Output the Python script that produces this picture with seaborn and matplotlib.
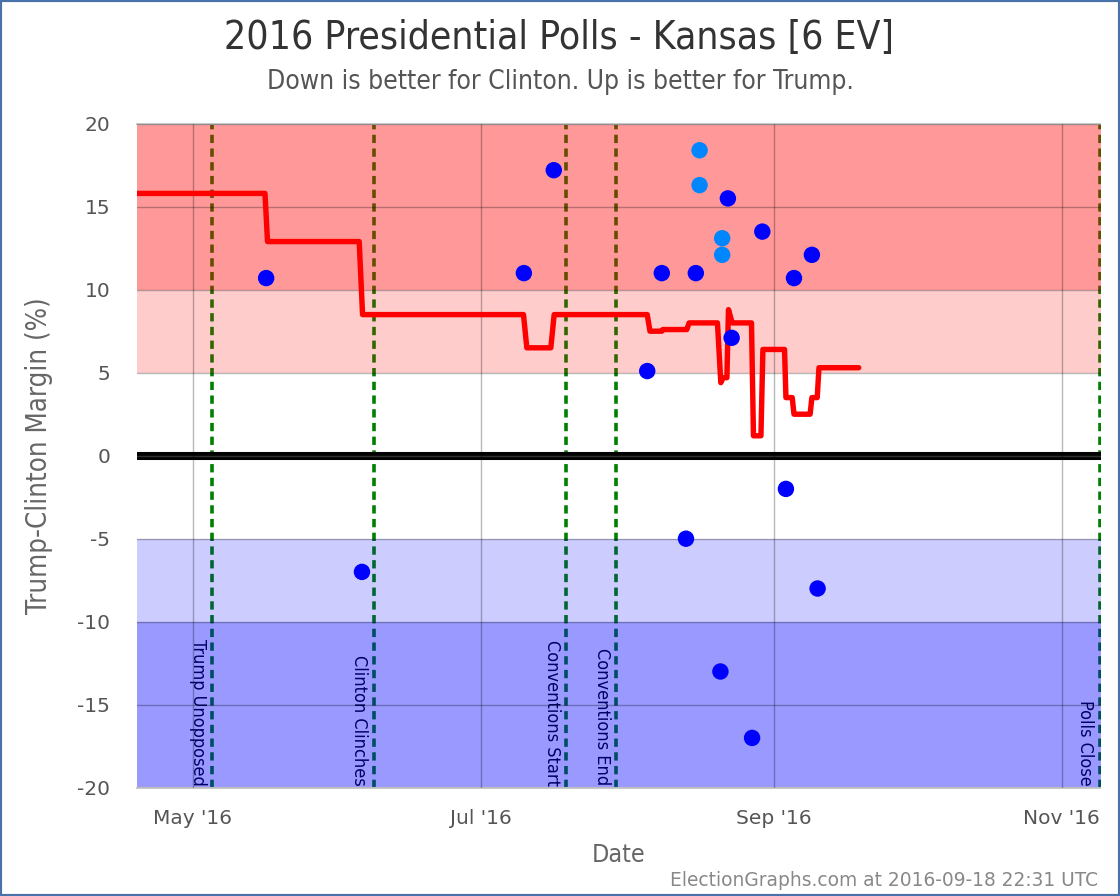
import numpy as np
import pandas as pd
import matplotlib
matplotlib.use("Agg")
import matplotlib.pyplot as plt
from matplotlib import font_manager
from matplotlib.patches import Rectangle
import seaborn as sns

# ---------------- data ----------------
poll_dates = ["2016-05-16 12:00", "2016-06-05 19:00", "2016-07-10 02:00", "2016-07-16 10:00",
              "2016-08-05 05:00", "2016-08-08 07:00", "2016-08-13 10:00", "2016-08-15 12:00",
              "2016-08-16 07:00", "2016-08-16 07:00", "2016-08-22 07:00", "2016-08-21 02:00",
              "2016-08-21 02:00", "2016-08-20 17:00", "2016-08-23 02:00", "2016-08-27 10:00",
              "2016-08-29 14:00", "2016-09-03 14:00", "2016-09-05 07:00", "2016-09-09 02:00",
              "2016-09-10 07:00"]
poll_margins = [10.7, -7, 11, 17.2, 5.1, 11, -5, 11, 18.4, 16.3, 15.5, 13.1, 12.1, -13,
                7.1, -17, 13.5, -2, 10.7, 12.1, -8]
poll_kinds = ["poll", "poll", "poll", "poll", "poll", "poll", "poll", "poll", "alt", "alt",
              "poll", "alt", "alt", "poll", "poll", "poll", "poll", "poll", "poll", "poll", "poll"]

avg_dates = ["2016-04-19 02:00", "2016-05-16 06:00", "2016-05-16 19:00", "2016-06-05 05:00",
             "2016-06-05 22:00", "2016-07-10 00:00", "2016-07-10 17:00", "2016-07-15 19:00",
             "2016-07-16 12:00", "2016-08-05 05:00", "2016-08-05 19:00", "2016-08-08 07:00",
             "2016-08-08 12:00", "2016-08-13 14:00", "2016-08-14 02:00", "2016-08-20 02:00",
             "2016-08-20 19:00", "2016-08-21 07:00", "2016-08-22 02:00", "2016-08-22 10:00",
             "2016-08-23 05:00", "2016-08-27 07:00", "2016-08-27 17:00", "2016-08-29 07:00",
             "2016-08-29 17:00", "2016-09-03 07:00", "2016-09-03 14:00", "2016-09-04 22:00",
             "2016-09-05 07:00", "2016-09-08 17:00", "2016-09-09 02:00", "2016-09-10 05:00",
             "2016-09-10 14:00", "2016-09-19 00:00"]
avg_margins = [15.8, 15.8, 12.9, 12.9, 8.5, 8.5, 6.5, 6.5, 8.5, 8.5, 7.5, 7.5, 7.6, 7.6,
               8.0, 8.0, 4.4, 4.7, 4.7, 8.8, 8.0, 8.0, 1.2, 1.2, 6.4, 6.4, 3.5, 3.5, 2.5,
               2.5, 3.5, 3.5, 5.3, 5.3]

event_dates = ["2016-05-05 00:00", "2016-06-08 07:00", "2016-07-19 00:00",
               "2016-07-29 14:00", "2016-11-09 00:00"]
event_labels = ["Trump Unopposed", "Clinton Clinches", "Conventions Start",
                "Conventions End", "Polls Close"]

band_lows = [10, 5, -10, -20]
band_highs = [20, 10, -5, -10]
band_sides = ["Trump", "Trump", "Clinton", "Clinton"]
band_strength = ["strong", "weak", "weak", "strong"]

tick_dates = ["2016-05-01", "2016-07-01", "2016-09-01", "2016-11-01"]
tick_labels = ["May '16", "Jul '16", "Sep '16", "Nov '16"]
y_ticks = [-20, -15, -10, -5, 0, 5, 10, 15, 20]
x_range = ["2016-04-19 02:00", "2016-11-09 05:00"]

# ---------------- style ----------------
sns.set_theme(style="white")
plt.rcParams["font.family"] = ["DejaVu Sans"]
plt.rcParams["axes.unicode_minus"] = False

try:
    _p = font_manager.findfont(font_manager.FontProperties(family="DejaVu Sans", stretch="condensed"),
                               fallback_to_default=False)
    HAS_COND = "condensed" in _p.lower()
except Exception:
    HAS_COND = False
cond = dict(family="DejaVu Sans", stretch="condensed") if HAS_COND else dict(family="DejaVu Sans")
k = 1.0 if HAS_COND else 0.91

polls = pd.DataFrame({"date": pd.to_datetime(poll_dates), "margin": poll_margins, "kind": poll_kinds})
avg = pd.DataFrame({"date": pd.to_datetime(avg_dates), "margin": avg_margins})

W, H = 1120, 896
fig = plt.figure(figsize=(W / 100, H / 100), dpi=100)
fig.patch.set_facecolor("white")
left, right, top, bottom = 136.7, 1100.5, 123.7, 787.7
ax = fig.add_axes([left / W, 1 - bottom / H, (right - left) / W, (bottom - top) / H])
ax.set_facecolor("white")

side_color = {"Trump": "#ff0000", "Clinton": "#0000ff"}
strength_alpha = {"strong": 0.4, "weak": 0.2}
for lo, hi, sd, st in zip(band_lows, band_highs, band_sides, band_strength):
    ax.axhspan(lo, hi, color=side_color[sd], alpha=strength_alpha[st], lw=0, zorder=1)

for d, lbl in zip(event_dates, event_labels):
    t = pd.Timestamp(d)
    ax.axvline(t, color="#008000", lw=2.6, dashes=(2.3, 1.5), zorder=0.5)
    ax.annotate(lbl, xy=(t, -20), xycoords="data", xytext=(-3.8, 1.5), textcoords="offset points",
                rotation=270, ha="right", va="bottom", fontsize=13 * k, color="black",
                zorder=0.6, annotation_clip=False, **cond)

ax.axhline(0, color="black", lw=5.8, zorder=2)
ax.axhline(0, color="#404040", lw=1.0, zorder=2.1)

sns.lineplot(data=avg, x="date", y="margin", sort=False, estimator=None, color="#ff0000",
             lw=3.9, zorder=3, ax=ax, solid_joinstyle="round", solid_capstyle="round")
sns.scatterplot(data=polls, x="date", y="margin", hue="kind",
                palette={"poll": "#0000ff", "alt": "#0086ff"}, s=140, linewidth=0,
                legend=False, zorder=4, ax=ax)

ax.set_xlim(pd.Timestamp(x_range[0]), pd.Timestamp(x_range[1]))
ax.set_ylim(-20, 20)
ax.set_xticks(pd.to_datetime(tick_dates))
ax.set_xticklabels(tick_labels)
ax.set_yticks(y_ticks)
ax.set_yticklabels([str(v) for v in y_ticks])
ax.tick_params(axis="both", length=0, labelsize=14.5, labelcolor="#555555")
ax.tick_params(axis="y", pad=19)
ax.tick_params(axis="x", pad=15)

ax.set_axisbelow(False)
ax.grid(True, color="black", alpha=0.28, lw=1.0)

for s in ["left", "right"]:
    ax.spines[s].set_visible(False)
for s in ["top", "bottom"]:
    ax.spines[s].set_visible(True)
    ax.spines[s].set_color("#c8c8c8")
    ax.spines[s].set_linewidth(1.5)

ax.set_xlabel("Date", fontsize=18 * k, color="#666666", **cond)
ax.set_ylabel("Trump-Clinton Margin (%)", fontsize=19.8 * k, color="#666666", **cond)
ax.xaxis.set_label_coords(0.5, -0.083)
ax.yaxis.set_label_coords(-0.087, 0.5)

fig.text(559 / W, 1 - 38 / H, "2016 Presidential Polls - Kansas [6 EV]", ha="center", va="center",
         fontsize=28 * k, color="#333333", **cond)
fig.text(560 / W, 1 - 82 / H, "Down is better for Clinton. Up is better for Trump.", ha="center",
         va="center", fontsize=19 * k, color="#555555", **cond)
fig.text(1098 / W, 1 - 880 / H, "ElectionGraphs.com at 2016-09-18 22:31 UTC", ha="right",
         va="center", fontsize=13.4, color="#888888")

fig.patches.append(Rectangle((0, 0), 1, 1, transform=fig.transFigure, fill=False,
                             edgecolor="#4a72aa", lw=3))

fig.savefig("out.png", dpi=100, facecolor="white")
